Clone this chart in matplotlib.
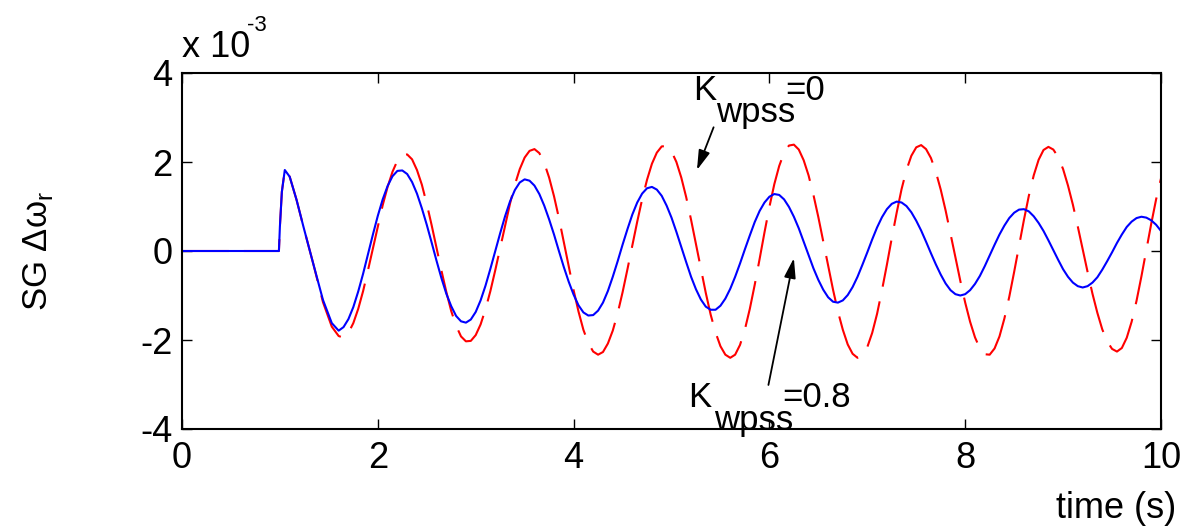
import numpy as np
import matplotlib
matplotlib.use("Agg")
import matplotlib.pyplot as plt

plt.rcParams["font.family"] = ["Liberation Sans", "DejaVu Sans"]
plt.rcParams["axes.unicode_minus"] = False

# values in units of 1e-3 (axis shows "x 10^-3")
# start of the disturbance, read point by point
time_start = [0.0, 0.99, 1.0, 1.02, 1.05, 1.10, 1.17, 1.24, 1.34, 1.44, 1.53]
wpss08_start = [0.0, 0.0, 0.55, 1.33, 1.82, 1.67, 1.15, 0.55, -0.28, -1.10, -1.62]
wpss0_start = [0.0, 0.0, 0.55, 1.33, 1.82, 1.67, 1.15, 0.55, -0.28, -1.15, -1.70]

# rest of the record, sampled every 0.05 s from 1.60 s to 10 s
wpss08_tail = [
    -1.79, -1.71, -1.53, -1.26, -0.91, -0.51, -0.07, 0.37, 0.79, 1.16,
    1.46, 1.68, 1.80, 1.81, 1.73, 1.55, 1.29, 0.96, 0.59, 0.19,
    -0.22, -0.61, -0.96, -1.24, -1.46, -1.58, -1.61, -1.54, -1.37, -1.11,
    -0.78, -0.40, 0.00, 0.40, 0.78, 1.11, 1.37, 1.54, 1.61, 1.58,
    1.47, 1.28, 1.02, 0.71, 0.37, 0.00, -0.36, -0.69, -0.98, -1.22,
    -1.38, -1.45, -1.44, -1.34, -1.16, -0.90, -0.58, -0.23, 0.14, 0.49,
    0.82, 1.09, 1.29, 1.41, 1.44, 1.38, 1.24, 1.02, 0.75, 0.43,
    0.09, -0.25, -0.58, -0.86, -1.09, -1.25, -1.32, -1.32, -1.23, -1.07,
    -0.85, -0.58, -0.28, 0.04, 0.35, 0.65, 0.90, 1.09, 1.22, 1.28,
    1.26, 1.16, 0.99, 0.77, 0.51, 0.21, -0.09, -0.39, -0.65, -0.87,
    -1.04, -1.14, -1.16, -1.11, -0.99, -0.81, -0.58, -0.31, -0.03, 0.26,
    0.53, 0.76, 0.94, 1.06, 1.11, 1.09, 1.01, 0.87, 0.68, 0.46,
    0.21, -0.05, -0.30, -0.53, -0.73, -0.88, -0.97, -1.00, -0.97, -0.88,
    -0.74, -0.56, -0.34, -0.10, 0.14, 0.37, 0.57, 0.74, 0.86, 0.93,
    0.94, 0.89, 0.78, 0.63, 0.45, 0.24, 0.02, -0.20, -0.41, -0.58,
    -0.71, -0.79, -0.82, -0.79, -0.71, -0.59, -0.42, -0.23, -0.03, 0.18,
    0.37, 0.54, 0.66, 0.74, 0.77, 0.75, 0.69, 0.59, 0.45,
]
wpss0_tail = [
    -1.91, -1.95, -1.84, -1.62, -1.30, -0.90, -0.43, 0.06, 0.56, 1.03,
    1.44, 1.78, 2.03, 2.16, 2.17, 2.06, 1.82, 1.49, 1.06, 0.58,
    0.07, -0.44, -0.92, -1.35, -1.68, -1.92, -2.03, -2.02, -1.89, -1.65,
    -1.31, -0.90, -0.43, 0.07, 0.58, 1.06, 1.49, 1.84,
    2.10, 2.25, 2.29, 2.20, 1.98, 1.65, 1.23, 0.74, 0.20, -0.35,
    -0.88, -1.36, -1.77, -2.07, -2.26, -2.33, -2.27, -2.08, -1.79, -1.40,
    -0.93, -0.41, 0.13, 0.66, 1.16, 1.60, 1.96, 2.21, 2.35, 2.36,
    2.24, 2.00, 1.65, 1.21, 0.70, 0.15, -0.40, -0.94, -1.43, -1.83,
    -2.14, -2.33, -2.40, -2.33, -2.11, -1.76, -1.30, -0.76, -0.18, 0.42,
    0.99, 1.50, 1.91, 2.21, 2.37, 2.39, 2.28, 2.04, 1.70, 1.26,
    0.76, 0.22, -0.33, -0.87, -1.36, -1.77, -2.10, -2.31, -2.40, -2.35,
    -2.16, -1.84, -1.41, -0.88, -0.31, 0.29, 0.86, 1.39, 1.82, 2.14,
    2.33, 2.38, 2.29, 2.09, 1.78, 1.38, 0.91, 0.39, -0.14, -0.67,
    -1.16, -1.59, -1.94, -2.19, -2.32, -2.33, -2.19, -1.92, -1.52, -1.03,
    -0.47, 0.12, 0.70, 1.24, 1.70, 2.05, 2.27, 2.34, 2.28, 2.11,
    1.84, 1.47, 1.04, 0.55, 0.04, -0.47, -0.96, -1.39, -1.76, -2.03,
    -2.20, -2.26, -2.18, -1.95, -1.59, -1.12, -0.57, 0.02, 0.61, 1.16,
    1.63,
]

x_ticks = [0, 2, 4, 6, 8, 10]
y_ticks = [-4, -2, 0, 2, 4]

t08 = np.concatenate([time_start, np.linspace(1.60, 10.0, len(wpss08_tail))])
t0 = np.concatenate([time_start, np.linspace(1.60, 10.0, len(wpss0_tail))])
y08 = np.concatenate([wpss08_start, wpss08_tail])
y0 = np.concatenate([wpss0_start, wpss0_tail])

W, H = 1195, 527
fig = plt.figure(figsize=(W / 100, H / 100), dpi=100)
ax = fig.add_axes([182 / W, 1 - 429 / H, (1161 - 182) / W, (429 - 73) / H])

ax.plot(t0, y0, color="#ff0000", lw=1.5, ls=(0, (22.5, 7.2)))
ax.plot(t08, y08, color="#0000ff", lw=1.5)

ax.set_xlim(0, 10)
ax.set_ylim(-4, 4)
ax.set_xticks(x_ticks)
ax.set_yticks(y_ticks)
ax.tick_params(direction="in", length=7.5, width=1.0, top=True, right=True,
               labelsize=26)
ax.tick_params(axis="x", pad=9)
ax.tick_params(axis="y", pad=7)
for s in ax.spines.values():
    s.set_linewidth(1.5)

# MATLAB-style exponent and labels
ax.text(0, 1.045, "x 10", transform=ax.transAxes, fontsize=26, va="baseline", ha="left")
ax.text(0.0665, 1.119, "-3", transform=ax.transAxes, fontsize=16, va="baseline", ha="left")
ax.text(1.0153, -0.25, "time (s)", transform=ax.transAxes, fontsize=26,
        va="baseline", ha="right")
fig.text(38 / W, 1 - 251 / H, "SG Δω$_{\\mathregular{r}}$", rotation=90,
         fontsize=25, ha="center", va="center")

# annotations
ax.text(5.22, 3.39, "K", fontsize=25, va="baseline", clip_on=False)
ax.text(5.46, 2.91, "wpss", fontsize=25, va="baseline", clip_on=False)
ax.text(6.16, 3.39, "=0", fontsize=25, va="baseline", clip_on=False)
ax.text(5.17, -3.50, "K", fontsize=25, va="baseline", clip_on=False)
ax.text(5.43, -4.02, "wpss", fontsize=25, va="baseline", clip_on=False)
ax.text(6.13, -3.50, "=0.8", fontsize=25, va="baseline", clip_on=False)

arrow = dict(arrowstyle="-|>,head_length=1.2,head_width=0.35", color="k", lw=1.3,
             mutation_scale=10, shrinkA=0, shrinkB=0)
ax.annotate("", xy=(5.26, 1.82), xytext=(5.43, 2.78), arrowprops=arrow)
ax.annotate("", xy=(6.25, -0.16), xytext=(5.99, -3.01), arrowprops=arrow)

fig.savefig("out.png", dpi=100, facecolor="white")
